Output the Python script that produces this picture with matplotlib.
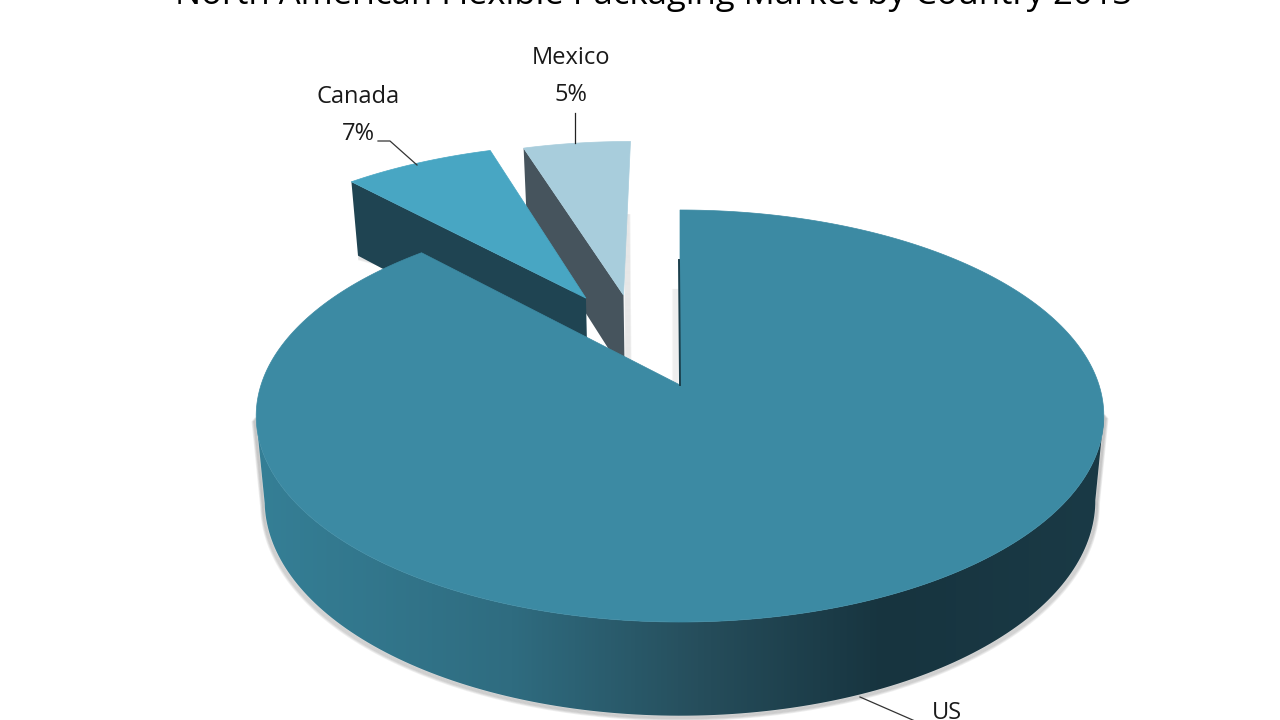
import numpy as np
import matplotlib
matplotlib.use("Agg")
import matplotlib.pyplot as plt
from matplotlib.colors import LinearSegmentedColormap
from matplotlib.patches import Polygon

# market share by country
countries = ["US", "Canada", "Mexico"]
shares = [88, 7, 5]
title = "North American Flexible Packaging Market by Country 2013"

top_colors = ["#3c8aa3", "#48a6c3", "#a8cddc"]
wall_colors = ["#1b3f4c", "#1f4452", "#46545d"]
# exploded slices: (distance, direction in degrees) in pie units
explode = [(0, 0), (0.52, 117.5), (0.5, 106.8)]

CX, RX = 680, 419
A, B, C = -143.4, 385, 0.1505


def project(u, v):
    # perspective view of the unit circle
    d = C * v + 1
    return CX + RX * u / d, (A * v + B) / d


def lower(x, y):
    # same points on the bottom of the disc
    return CX + (x - CX) * 0.98, y + 74 + (y - 184) * 0.045


def wedge(start, end, off):
    t = np.radians(np.linspace(start, end, 300))
    ox = off[0] * np.cos(np.radians(off[1]))
    oy = off[0] * np.sin(np.radians(off[1]))
    ax_x, ax_y = project(np.cos(t) + ox, np.sin(t) + oy)
    ap_x, ap_y = project(ox, oy)
    return ap_x, ap_y, ax_x, ax_y


fig = plt.figure(figsize=(12.8, 7.2), dpi=100)
ax = fig.add_axes([0, 0, 1, 1])
ax.set_xlim(0, 1280)
ax.set_ylim(720, 0)
ax.axis("off")
plt.rcParams["font.family"] = ["Open Sans", "DejaVu Sans"]

# angles run clockwise from 12 o'clock
ends = 90 - 3.6 * np.cumsum(shares)
starts = np.r_[90, ends[:-1]]

# small slices first, the big one goes on top of them
for i in [2, 1]:
    ap_x, ap_y, x, y = wedge(starts[i], ends[i], explode[i])
    lx, ly = lower(x, y)
    alx, aly = lower(ap_x, ap_y)
    # soft shadow
    for k in range(6):
        if i == 2:
            ax.plot([ap_x + 1 + k, alx + 1 + k], [215, aly], color="#707070", alpha=0.1, lw=1.2, zorder=1)
        else:
            ax.plot([lx[0] + 1, lx[0] + 30], [ly[0] + k * 0.8, ly[0] + 8 + k * 0.8], color="#808080",
                    alpha=0.1, lw=1.2, zorder=1)
    wall = np.array([[ap_x, ap_y], [x[0], y[0]], [lx[0], ly[0]], [alx, aly]])
    ax.add_patch(Polygon(wall, color=wall_colors[i], lw=0, zorder=2))
    ax.add_patch(Polygon(np.r_[[[ap_x, ap_y]], np.c_[x, y]], color=top_colors[i], lw=0.5, zorder=3))

# big slice, wall and shadow drawn from the full outline
ap_x, ap_y, x, y = wedge(starts[0], ends[0], explode[0])
lx, ly = lower(x, y)
keep = np.where(y > 415)[0]
side = np.r_[np.c_[x[keep], y[keep]], np.c_[lx[keep][::-1], ly[keep][::-1]]]

# shadow follows the walls as well as the bottom edge, so it has no end cap
edge_x = np.r_[x[keep][0], lx[keep], x[keep][-1]]
edge_y = np.r_[y[keep][0], ly[keep], y[keep][-1]]
for k in range(6):
    ax.plot(edge_x + (edge_x - CX) * 0.0015 * k, edge_y + k * 0.8, color="#606060",
            alpha=0.1, lw=2, zorder=4)

grad = LinearSegmentedColormap.from_list(
    "side", [(0, "#357f96"), (0.3, "#2f6c80"), (0.52, "#264e5c"), (0.74, "#17343f"), (1, "#1a3a46")])
im = ax.imshow(np.linspace(0, 1, 512).reshape(1, -1), cmap=grad, aspect="auto",
               extent=[257, 1105, 720, 200], zorder=5)
clip = Polygon(side, transform=ax.transData, lw=0)
im.set_clip_path(clip)
ax.set_xlim(0, 1280)
ax.set_ylim(720, 0)

# shadow in the notch next to the big slice
for k in range(6):
    ax.plot([x[0] - 2 - k, ap_x - 2 - k], [290, ap_y - 2], color="#808080", alpha=0.06, lw=1.5, zorder=4)
ax.plot([x[0] - 1, ap_x], [260, ap_y], color=wall_colors[0], lw=1.4, zorder=8)
ax.add_patch(Polygon(np.r_[[[ap_x, ap_y]], np.c_[x, y]], color=top_colors[0], lw=0.5, zorder=7))

# leader lines
ax.plot([378, 390, 417], [141, 141, 165], color="#333333", lw=0.9, zorder=8)
ax.plot([575, 575], [113, 143], color="#222222", lw=0.9, zorder=8)
ax.plot([860, 915], [697, 721], color="#333333", lw=0.9, zorder=8)

# labels
ax.text(358, 97, countries[1], ha="center", va="center", fontsize=17, color="#1a1a1a")
ax.text(358, 134, "%d%%" % shares[1], ha="center", va="center", fontsize=17, color="#1a1a1a")
ax.text(571, 58, countries[2], ha="center", va="center", fontsize=17, color="#1a1a1a")
ax.text(571, 95, "%d%%" % shares[2], ha="center", va="center", fontsize=17, color="#1a1a1a")
ax.text(947, 713, countries[0], ha="center", va="center", fontsize=17, color="#1a1a1a")

ax.text(654, 4, title, ha="center", va="baseline", fontsize=24.9, color="black")

fig.savefig("out.png", dpi=100)
